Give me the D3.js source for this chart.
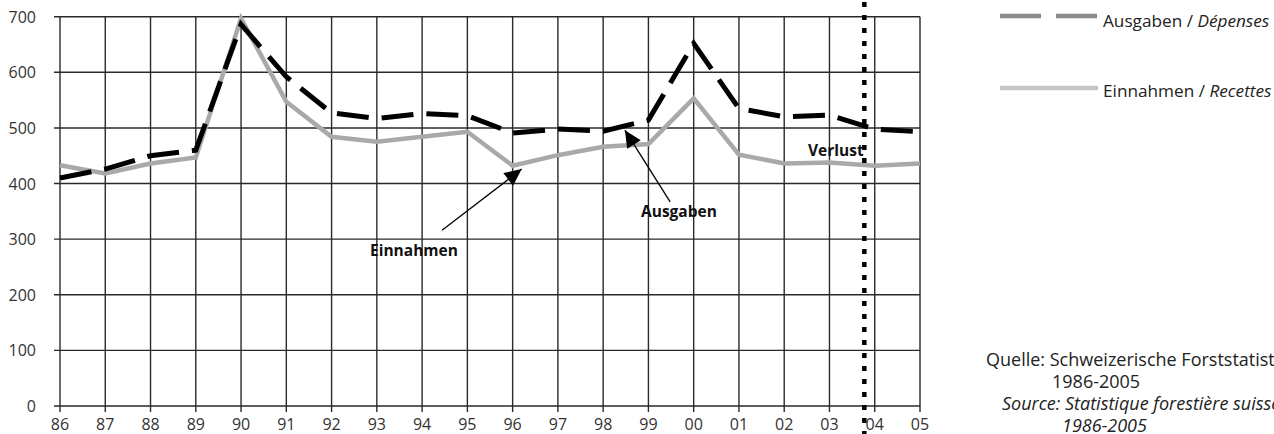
<!DOCTYPE html>
<html>
<head>
<meta charset="utf-8">
<script src="https://cdn.jsdelivr.net/npm/d3@7"></script>
<style>
html,body{margin:0;padding:0;background:#fff;}
svg{display:block;font-family:"Open Sans",sans-serif;}
</style>
</head>
<body>
<svg id="chart" width="1274" height="434"></svg>
<script>
// ---- data ----
const years = [1986,1987,1988,1989,1990,1991,1992,1993,1994,1995,1996,1997,1998,1999,2000,2001,2002,2003,2004,2005];
const yearLabels = ["86","87","88","89","90","91","92","93","94","95","96","97","98","99","00","01","02","03","04","05"];
const ausgaben = [410,426,450,460,686,592,527,517,526,522,491,498,494,514,652,535,520,523,498,493];
const einnahmen = [433,418,436,447,697,547,484,475,484,493,432,451,466,471,553,452,436,438,432,436];
const yTicks = [0,100,200,300,400,500,600,700];
const verlustYear = 2003.77;
const seriesNames = ["Ausgaben / ", "Dépenses", "Einnahmen / ", "Recettes"];
const sourceLines = ["Quelle: Schweizerische Forststatistik", "1986-2005", "Source: Statistique forestière suisse", "1986-2005"];

// ---- layout ----
const svg = d3.select("#chart");
const L = 60, R = 920, T = 16.7, B = 406;
const x = d3.scaleLinear().domain([1986, 2005]).range([L, R]);
const y = d3.scaleLinear().domain([0, 700]).range([B, T]);

const gridColor = "#2a2a2a";
const g = svg.append("g");

// horizontal grid + y ticks
g.selectAll(".hg").data(yTicks).join("line")
  .attr("x1", L - 6).attr("x2", R)
  .attr("y1", d => y(d)).attr("y2", d => y(d))
  .attr("stroke", gridColor).attr("stroke-width", 1.4);
// vertical grid + x ticks
g.selectAll(".vg").data(years).join("line")
  .attr("x1", d => x(d)).attr("x2", d => x(d))
  .attr("y1", T).attr("y2", B + 6)
  .attr("stroke", gridColor).attr("stroke-width", 1.4);

// y labels
g.selectAll(".yl").data(yTicks).join("text")
  .attr("x", 36).attr("y", d => y(d)).attr("dy", "0.38em")
  .attr("text-anchor", "end").attr("font-size", 16).attr("fill", "#333")
  .text(d => d);
// x labels
g.selectAll(".xl").data(years).join("text")
  .attr("x", d => x(d)).attr("y", 429.5)
  .attr("text-anchor", "middle").attr("font-size", 16).attr("fill", "#333")
  .text((d, i) => yearLabels[i]);

// lines
const line = d3.line().x((d, i) => x(years[i])).y(d => y(d));
g.append("path").datum(einnahmen).attr("d", line)
  .attr("fill", "none").attr("stroke", "#a9a9a9").attr("stroke-width", 4.5)
  .attr("stroke-linejoin", "miter");
g.append("path").datum(ausgaben).attr("d", line)
  .attr("fill", "none").attr("stroke", "#000").attr("stroke-width", 5)
  .attr("stroke-dasharray", "32,13").attr("stroke-linejoin", "miter");

// verlust dotted line
g.append("line")
  .attr("x1", x(verlustYear)).attr("x2", x(verlustYear))
  .attr("y1", 2).attr("y2", 434)
  .attr("stroke", "#000").attr("stroke-width", 4.5)
  .attr("stroke-dasharray", "5,8");

// annotations
function arrow(x1, y1, x2, y2) {
  g.append("line").attr("x1", x1).attr("y1", y1).attr("x2", x2).attr("y2", y2)
    .attr("stroke", "#000").attr("stroke-width", 1.3);
  const a = Math.atan2(y2 - y1, x2 - x1), len = 17, w = 8;
  const bx = x2 - len * Math.cos(a), by = y2 - len * Math.sin(a);
  const px = -Math.sin(a) * w, py = Math.cos(a) * w;
  g.append("path").attr("d", `M${x2},${y2}L${bx + px},${by + py}L${bx - px},${by - py}Z`).attr("fill", "#000");
}
arrow(x(1994.44), y(316), x(1996.2), y(426));
arrow(x(1999.48), y(367), x(1998.48), y(496));

const bold = (tx, ty, s) => g.append("text").attr("x", tx).attr("y", ty)
  .attr("font-size", 15.5).attr("font-weight", "bold").attr("fill", "#111").text(s);
bold(370, 256, "Einnahmen");
bold(641, 217, "Ausgaben");
bold(808, 156, "Verlust");

// legend
g.append("line").attr("x1", 1000).attr("x2", 1098).attr("y1", 16).attr("y2", 16)
  .attr("stroke", "#8a8a8a").attr("stroke-width", 4.5).attr("stroke-dasharray", "41,15");
g.append("line").attr("x1", 1000).attr("x2", 1098).attr("y1", 88).attr("y2", 88)
  .attr("stroke", "#c6c6c6").attr("stroke-width", 4.5);
const lt1 = g.append("text").attr("x", 1103).attr("y", 26.5).attr("font-size", 17.2).attr("fill", "#222");
lt1.append("tspan").text(seriesNames[0]);
lt1.append("tspan").attr("font-style", "italic").text(seriesNames[1]);
const lt2 = g.append("text").attr("x", 1103).attr("y", 97).attr("font-size", 17.2).attr("fill", "#222");
lt2.append("tspan").text(seriesNames[2]);
lt2.append("tspan").attr("font-style", "italic").text(seriesNames[3]);

// source
const src = [
  {t: sourceLines[0], x: 986, y: 366, it: false},
  {t: sourceLines[1], x: 1052, y: 388, it: false},
  {t: sourceLines[2], x: 1002, y: 410, it: true},
  {t: sourceLines[3], x: 1062, y: 432, it: true}
];
g.selectAll(".src").data(src).join("text")
  .attr("x", d => d.x).attr("y", d => d.y)
  .attr("font-size", 18).attr("fill", "#222")
  .attr("font-style", d => d.it ? "italic" : "normal")
  .text(d => d.t);
</script>
</body>
</html>
